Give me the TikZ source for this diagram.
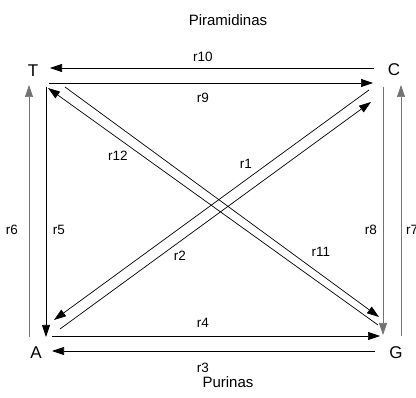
\documentclass[tikz,border=0pt]{standalone}
\usepackage{fontspec}
\setmainfont{Liberation Sans}
\usetikzlibrary{arrows.meta}
\begin{document}
\begin{tikzpicture}[x=1pt,y=-1pt,
  conn/.style={line width=0.7pt,-{Triangle[length=12pt,width=8pt]}},
  grayconn/.style={conn,draw=black!55},
  lbl/.style={font=\fontsize{13.5}{15}\selectfont},
  base/.style={font=\fontsize{17}{19}\selectfont},
  title/.style={font=\fontsize{15}{17}\selectfont}]
\useasboundingbox (0,0) rectangle (416,398);
\node[base] (T) at (33,71) {T};
\node[base] (C) at (394,70) {C};
\node[base] (A) at (36,353) {A};
\node[base] (G) at (396,353) {G};
\node[title] (pir) at (228,20) {Piramidinas};
\node[title] (pur) at (228,382) {Purinas};
% endpoints
\coordinate (r10s) at (374,68); \coordinate (r10e) at (50,68);
\coordinate (r9s) at (49,83); \coordinate (r9e) at (373,83);
\coordinate (r6s) at (29,337); \coordinate (r6e) at (29,85);
\coordinate (r5s) at (46,87); \coordinate (r5e) at (46,337);
\coordinate (r8s) at (383,87); \coordinate (r8e) at (383,335);
\coordinate (r7s) at (401,336); \coordinate (r7e) at (401,85);
\coordinate (r4s) at (52,336); \coordinate (r4e) at (380,336);
\coordinate (r3s) at (375,351); \coordinate (r3e) at (52,351);
\coordinate (r12s) at (378,325); \coordinate (r12e) at (48,88);
\coordinate (r11s) at (65,87); \coordinate (r11e) at (379,317);
\coordinate (r1s) at (60,329); \coordinate (r1e) at (371,102);
\coordinate (r2s) at (369,90); \coordinate (r2e) at (54,320);
\draw[conn] (r10s) -- (r10e);
\draw[conn] (r9s) -- (r9e);
\draw[grayconn] (r6s) -- (r6e);
\draw[conn] (r5s) -- (r5e);
\draw[grayconn] (r8s) -- (r8e);
\draw[grayconn] (r7s) -- (r7e);
\draw[conn] (r4s) -- (r4e);
\draw[conn] (r3s) -- (r3e);
\draw[conn] (r12s) -- (r12e);
\draw[conn] (r11s) -- (r11e);
\draw[conn] (r1s) -- (r1e);
\draw[conn] (r2s) -- (r2e);
% labels
\node[lbl] (l10) at (203,57) {r10};
\node[lbl] (l9) at (203,98) {r9};
\node[lbl] (l12) at (118,156) {r12};
\node[lbl] (l1) at (246,164) {r1};
\node[lbl] (l6) at (12,230) {r6};
\node[lbl] (l5) at (59,230) {r5};
\node[lbl] (l8) at (371,230) {r8};
\node[lbl, anchor=west, inner sep=0pt] (l7) at (406,230) {r7};
\node[lbl] (l2) at (180,256) {r2};
\node[lbl] (l11) at (321,252) {r11};
\node[lbl] (l4) at (203,323) {r4};
\node[lbl] (l3) at (203,368) {r3};
\end{tikzpicture}
\end{document}
